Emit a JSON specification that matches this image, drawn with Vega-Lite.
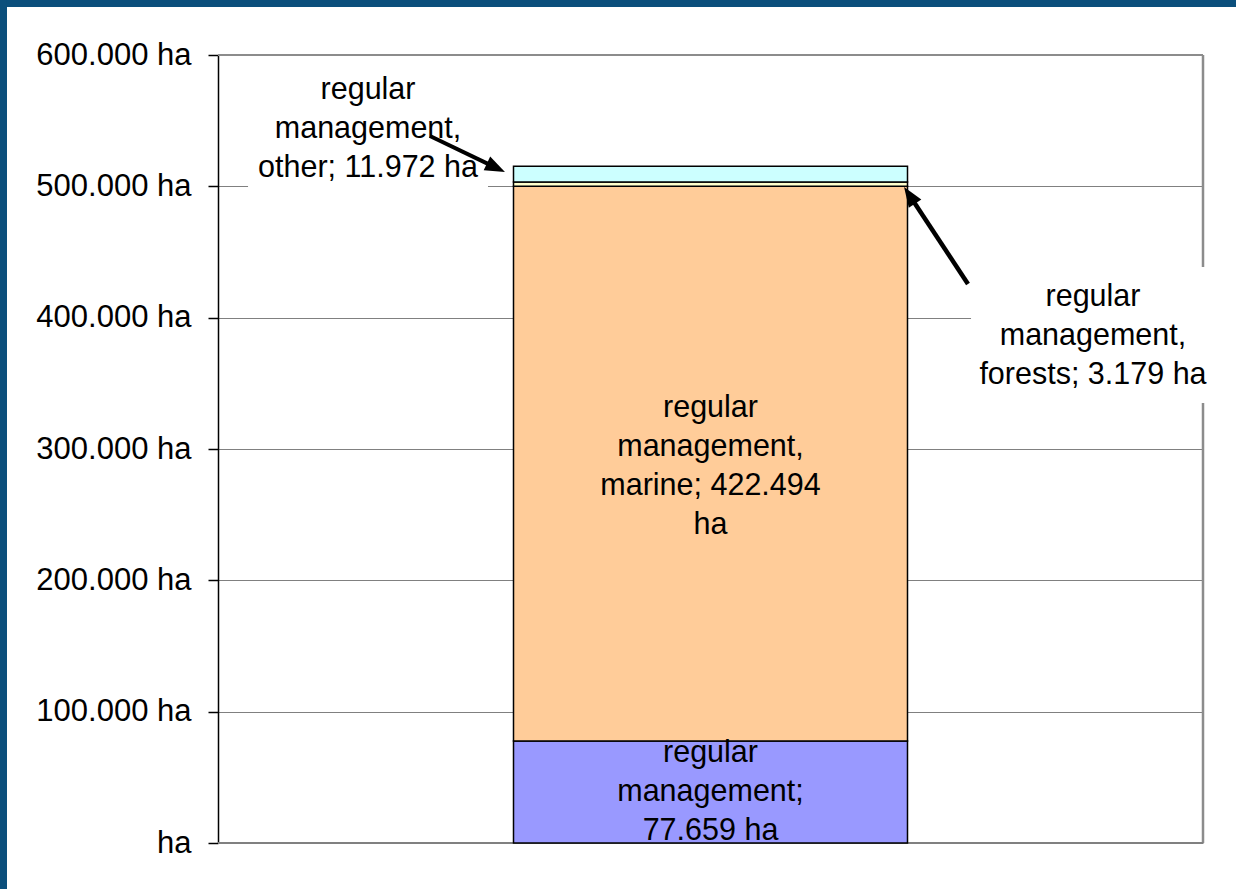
{
  "$schema": "https://vega.github.io/schema/vega-lite/v6.json",
  "width": 985,
  "height": 788,
  "autosize": {"type": "none"},
  "padding": {"left": 218, "top": 55, "right": 33, "bottom": 46},
  "background": "white",
  "config": {"view": {"stroke": null}, "font": "Liberation Sans"},
  "datasets": {
    "areas": [
      {"segment": "regular management", "value": 77659, "order": 1},
      {"segment": "regular management, marine", "value": 422494, "order": 2},
      {"segment": "regular management, forests", "value": 3179, "order": 3},
      {"segment": "regular management, other", "value": 11972, "order": 4}
    ],
    "labels": [
      {"label": "regular\nmanagement,\nother; 11.972 ha", "ax": 0.1523, "ay": 573350},
      {"label": "regular\nmanagement,\nforests; 3.179 ha", "ax": 0.8883, "ay": 415735},
      {"label": "regular\nmanagement,\nmarine; 422.494\nha", "ax": 0.5, "ay": 331218},
      {"label": "regular\nmanagement;\n77.659 ha", "ax": 0.5, "ay": 68528}
    ]
  },
  "layer": [
    {
      "data": {"values": [{}]},
      "mark": {"type": "rule", "stroke": "#8c8c8c", "strokeWidth": 2},
      "encoding": {
        "x": {"datum": 0, "type": "quantitative", "scale": {"domain": [0, 1], "nice": false, "zero": false}, "axis": null},
        "x2": {"datum": 1},
        "y": {
          "datum": 600000,
          "type": "quantitative",
          "scale": {"domain": [0, 600000], "nice": false},
          "axis": {
            "title": null,
            "values": [0, 100000, 200000, 300000, 400000, 500000, 600000],
            "labelExpr": "datum.value == 0 ? 'ha' : replace(format(datum.value, ','), ',', '.') + ' ha'",
            "labelFont": "Liberation Sans",
            "labelFontSize": 31,
            "labelColor": "black",
            "labelPadding": 17,
            "tickSize": 10,
            "tickColor": "black",
            "tickWidth": 1.5,
            "domainColor": "black",
            "domainWidth": 1.5,
            "grid": true,
            "gridColor": "#808080",
            "gridWidth": 1
          }
        }
      }
    },
    {
      "data": {"values": [{}]},
      "mark": {"type": "rule", "stroke": "#8c8c8c", "strokeWidth": 2.5},
      "encoding": {
        "x": {"datum": 1, "type": "quantitative"},
        "y": {"datum": 0, "type": "quantitative"},
        "y2": {"datum": 600000}
      }
    },
    {
      "data": {"values": [{}]},
      "mark": {"type": "rule", "stroke": "#808080", "strokeWidth": 2},
      "encoding": {
        "x": {"datum": 0, "type": "quantitative"},
        "x2": {"datum": 1},
        "y": {"datum": 0, "type": "quantitative"}
      }
    },
    {
      "data": {"name": "areas"},
      "transform": [
        {"stack": "value", "groupby": [], "sort": [{"field": "order", "order": "ascending"}], "as": ["y0", "y1"]}
      ],
      "mark": {"type": "rect", "stroke": "black", "strokeWidth": 1.5},
      "encoding": {
        "x": {"datum": 0.3, "type": "quantitative"},
        "x2": {"datum": 0.7},
        "y": {"field": "y1", "type": "quantitative"},
        "y2": {"field": "y0"},
        "color": {
          "field": "segment",
          "type": "nominal",
          "scale": {
            "domain": ["regular management", "regular management, marine", "regular management, forests", "regular management, other"],
            "range": ["#9999FF", "#FFCC99", "#FFFFCC", "#CCFFFF"]
          },
          "legend": null
        }
      }
    },
    {
      "data": {"values": [{}]},
      "mark": {"type": "rect", "fill": "white"},
      "encoding": {
        "x": {"datum": 0.0305, "type": "quantitative"},
        "x2": {"datum": 0.2741},
        "y": {"datum": 587040, "type": "quantitative"},
        "y2": {"datum": 497190}
      }
    },
    {
      "data": {"values": [{}]},
      "mark": {"type": "rect", "fill": "white"},
      "encoding": {
        "x": {"datum": 0.7645, "type": "quantitative"},
        "x2": {"datum": 1.0122},
        "y": {"datum": 438566, "type": "quantitative"},
        "y2": {"datum": 335016}
      }
    },
    {
      "data": {"name": "labels"},
      "mark": {"type": "text", "font": "Liberation Sans", "fontSize": 30.5, "lineHeight": 39, "align": "center", "baseline": "middle", "lineBreak": "\n", "color": "black"},
      "encoding": {
        "x": {"field": "ax", "type": "quantitative"},
        "y": {"field": "ay", "type": "quantitative"},
        "text": {"field": "label"}
      }
    },
    {
      "data": {"values": [{}]},
      "mark": {"type": "rule", "stroke": "black", "strokeWidth": 4},
      "encoding": {
        "x": {"datum": 0.2152, "type": "quantitative"},
        "y": {"datum": 538322, "type": "quantitative"},
        "x2": {"datum": 0.2799},
        "y2": {"datum": 515010}
      }
    },
    {
      "data": {"values": [{}]},
      "mark": {"type": "point", "shape": "M0,-1L-0.6,0.6L0.6,0.6Z", "filled": true, "fill": "black", "opacity": 1, "size": 625, "angle": 115.7},
      "encoding": {
        "x": {"datum": 0.2799, "type": "quantitative"},
        "y": {"datum": 515010, "type": "quantitative"}
      }
    },
    {
      "data": {"values": [{}]},
      "mark": {"type": "rule", "stroke": "black", "strokeWidth": 4.5},
      "encoding": {
        "x": {"datum": 0.7614, "type": "quantitative"},
        "y": {"datum": 425634, "type": "quantitative"},
        "x2": {"datum": 0.7035},
        "y2": {"datum": 491570}
      }
    },
    {
      "data": {"values": [{}]},
      "mark": {"type": "point", "shape": "M0,-1L-0.6,0.6L0.6,0.6Z", "filled": true, "fill": "black", "opacity": 1, "size": 625, "angle": 326.6},
      "encoding": {
        "x": {"datum": 0.7035, "type": "quantitative"},
        "y": {"datum": 491570, "type": "quantitative"}
      }
    },
    {
      "data": {"values": [{}]},
      "mark": {"type": "rule", "stroke": "#0b4f7c", "strokeWidth": 7},
      "encoding": {
        "x": {"datum": -0.23, "type": "quantitative"},
        "x2": {"datum": 1.04},
        "y": {"datum": 639210, "type": "quantitative"}
      }
    },
    {
      "data": {"values": [{}]},
      "mark": {"type": "rule", "stroke": "#0b4f7c", "strokeWidth": 7},
      "encoding": {
        "x": {"datum": -0.21777, "type": "quantitative"},
        "y": {"datum": 650000, "type": "quantitative"},
        "y2": {"datum": -40000}
      }
    }
  ]
}
